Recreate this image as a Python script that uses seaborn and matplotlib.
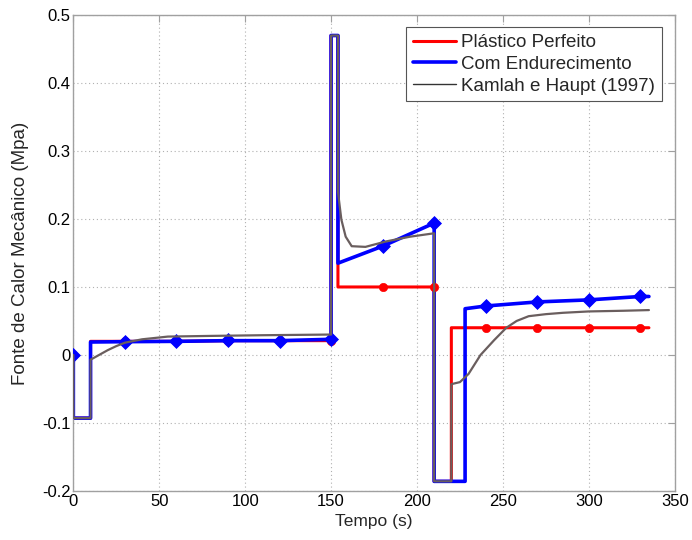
import numpy as np
import pandas as pd
import matplotlib
matplotlib.use("Agg")
import matplotlib.pyplot as plt
import seaborn as sns

# ---- data ----
t_red = [0, 0, 10, 10, 30, 60, 90, 120, 150, 150, 154, 154, 180, 210, 210, 220, 220, 240, 270, 300, 330, 335]
y_red = [0, -0.093, -0.093, 0.020, 0.020, 0.020, 0.021, 0.021, 0.021, 0.47, 0.47, 0.100, 0.100, 0.100,
         -0.186, -0.186, 0.040, 0.040, 0.040, 0.040, 0.040, 0.040]
t_red_mk = [0, 30, 60, 90, 120, 150, 180, 210, 240, 270, 300, 330]
y_red_mk = [0, 0.020, 0.020, 0.021, 0.021, 0.021, 0.100, 0.100, 0.040, 0.040, 0.040, 0.040]

t_blue = [0, 0, 10, 10, 30, 60, 90, 120, 150, 150, 154, 154, 180, 210, 210, 228, 228, 240, 270, 300, 330, 335]
y_blue = [0, -0.093, -0.093, 0.019, 0.0195, 0.020, 0.021, 0.021, 0.023, 0.47, 0.47, 0.135, 0.160, 0.194,
          -0.186, -0.186, 0.068, 0.072, 0.078, 0.081, 0.086, 0.086]
t_blue_mk = [0, 30, 60, 90, 120, 150, 180, 210, 240, 270, 300, 330]
y_blue_mk = [0, 0.0195, 0.020, 0.022, 0.021, 0.023, 0.160, 0.194, 0.072, 0.078, 0.081, 0.086]

t_grey = [0, 0, 10, 10, 15, 20, 25, 30, 40, 55, 80, 110, 150, 150, 154, 154, 156, 158.5, 162, 170, 182,
          196, 210, 210, 220, 220, 225, 230, 237, 245, 252, 258, 265, 275, 285, 300, 320, 335]
y_grey = [0, -0.093, -0.093, -0.007, 0.0, 0.007, 0.013, 0.018, 0.023, 0.027, 0.028, 0.029, 0.030, 0.47,
          0.47, 0.240, 0.199, 0.174, 0.160, 0.159, 0.167, 0.174, 0.179, -0.186, -0.186, -0.043, -0.040,
          -0.028, 0.000, 0.022, 0.040, 0.050, 0.057, 0.060, 0.062, 0.064, 0.065, 0.066]

labels = ["Plástico Perfeito", "Com Endurecimento", "Kamlah e Haupt (1997)"]
x_ticks = [0, 50, 100, 150, 200, 250, 300, 350]
y_ticks = [-0.2, -0.1, 0, 0.1, 0.2, 0.3, 0.4, 0.5]

# ---- style ----
sns.set_style("white")
plt.rcParams["font.family"] = ["Liberation Sans", "DejaVu Sans"]
plt.rcParams["font.size"] = 12

fig = plt.figure(figsize=(6.92, 5.40), dpi=100)
ax = fig.add_axes([0.106, 0.091, 0.869, 0.881])

red = "#ff0000"
blue = "#0000ff"
grey = "#6a5e5e"

df_r = pd.DataFrame({"t": t_red, "y": y_red})
df_b = pd.DataFrame({"t": t_blue, "y": y_blue})
df_g = pd.DataFrame({"t": t_grey, "y": y_grey})

sns.lineplot(data=df_r, x="t", y="y", sort=False, estimator=None, color=red, lw=2.2, ax=ax, label=labels[0])
sns.scatterplot(x=t_red_mk, y=y_red_mk, color=red, marker="o", s=36, edgecolor=red, ax=ax, zorder=3)
sns.lineplot(data=df_b, x="t", y="y", sort=False, estimator=None, color=blue, lw=2.6, ax=ax, label=labels[1])
sns.scatterplot(x=t_blue_mk, y=y_blue_mk, color=blue, marker="D", s=50, edgecolor=blue, ax=ax, zorder=4)
sns.lineplot(data=df_g, x="t", y="y", sort=False, estimator=None, color=grey, lw=1.6, ax=ax, label=labels[2], zorder=5)

ax.set_xlim(0, 350)
ax.set_ylim(-0.2, 0.5)
ax.set_xticks(x_ticks)
ax.set_yticks(y_ticks)
ax.set_yticklabels([f"{v:g}" for v in y_ticks])
ax.set_xlabel("Tempo (s)", fontsize=12.5, labelpad=4)
ax.set_ylabel("Fonte de Calor Mecânico (Mpa)", fontsize=13.5, labelpad=9)

ax.grid(True, linestyle=(0, (1, 2.5)), color="#b0b0b0", linewidth=0.8)
for sp in ax.spines.values():
    sp.set_color("#a0a0a0")
    sp.set_linewidth(1.0)
    sp.set_visible(True)
ax.tick_params(direction="in", length=5, color="#a0a0a0", labelsize=12, top=True, right=True,
               labelcolor="black", pad=2)

leg = ax.legend(loc="upper right", bbox_to_anchor=(0.985, 0.982), frameon=True, fancybox=False,
                framealpha=1, edgecolor="#555555", fontsize=13.5, borderpad=0.35, labelspacing=0.25,
                handlelength=2.3, handletextpad=0.3, borderaxespad=0.2)
leg.get_frame().set_linewidth(0.8)
leg.get_lines()[2].set_color("#333333")
leg.get_lines()[2].set_linewidth(1.0)

fig.savefig("out.png", dpi=100)
